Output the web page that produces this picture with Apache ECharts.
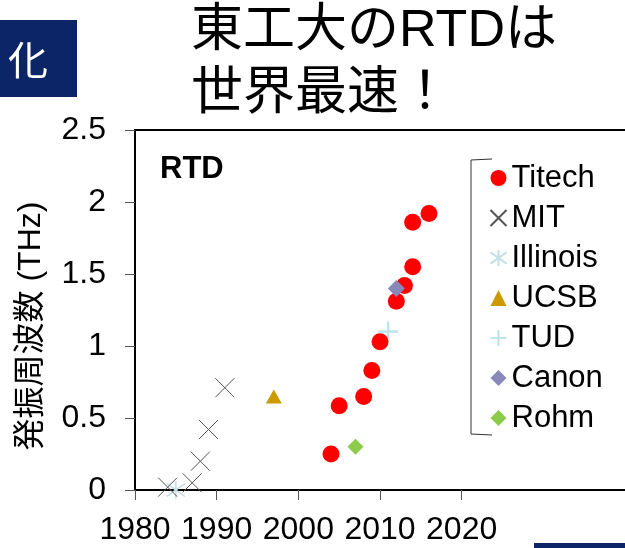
<!DOCTYPE html>
<html><head><meta charset="utf-8">
<script src="https://cdn.jsdelivr.net/npm/echarts@6/dist/echarts.min.js"></script>
<style>html,body{margin:0;padding:0;background:#fff}#c{width:625px;height:548px}</style>
</head><body><div id="c"></div>
<script>
// Data (year, frequency THz)
const titech = [[2004,0.25],[2005,0.585],[2008,0.65],[2009,0.83],[2010,1.03],[2012,1.31],[2013,1.42],[2014,1.55],[2014,1.86],[2016,1.92]];
const mit = [[1984,0.02],[1987,0.05],[1988,0.2],[1989,0.42],[1991,0.71]];
const illinois = [[1985,0.0]];
const ucsb = [[1997,0.65]];
const tud = [[2011,1.1]];
const canon = [[2012,1.4]];
const rohm = [[2007,0.3]];
const xTicks = [1980,1990,2000,2010,2020];
const yTicks = [0,0.5,1,1.5,2,2.5];
const seriesNames = ['Titech','MIT','Illinois','UCSB','TUD','Canon','Rohm'];

const FONT = "'Liberation Sans', Arial, 'Noto Sans CJK JP', sans-serif";
const crossPath = 'path://M0,0L10,10M10,0L0,10';
const starPath = 'path://M0,1.5L10,8.5M10,1.5L0,8.5M5,0L5,10';
const plusPath = 'path://M5,0L5,10M0,5L10,5';

const chart = echarts.init(document.getElementById('c'), null, {renderer:'canvas'});
chart.setOption({
  animation:false,
  backgroundColor:'#fff',
  grid:{left:135, top:130, right:0, bottom:58},
  xAxis:[{
    type:'value', min:1980, max:2040, interval:10,
    axisLine:{lineStyle:{color:'#000', width:2}},
    axisTick:{show:true, length:10, inside:false, lineStyle:{color:'#555', width:1}, customValues:xTicks},
    axisLabel:{fontSize:32, color:'#000', fontFamily:FONT, margin:24, customValues:xTicks, formatter:v=>String(v)},
    splitLine:{show:false}
  },{
    type:'value', position:'top', min:1980, max:2040,
    axisLine:{show:true, lineStyle:{color:'#000', width:2}},
    axisTick:{show:false}, axisLabel:{show:false}, splitLine:{show:false}
  }],
  yAxis:{
    type:'value', min:0, max:2.5, interval:0.5,
    axisLine:{show:true, lineStyle:{color:'#000', width:2}},
    axisTick:{show:true, length:10, lineStyle:{color:'#555', width:1}},
    axisLabel:{fontSize:32, color:'#000', fontFamily:FONT, margin:29, formatter:v=>String(v)},
    splitLine:{show:false}
  },
  legend:{
    orient:'vertical', left:488, top:158, itemGap:0, padding:0,
    itemWidth:16, itemHeight:16,
    textStyle:{fontSize:31, color:'#000', fontFamily:FONT, lineHeight:40},
    data:seriesNames
  },
  series:[
    {name:'TUD', type:'scatter', data:tud, symbol:plusPath, symbolSize:20, z:1,
      itemStyle:{color:'none', borderColor:'#bfe3ea', borderWidth:2.5, opacity:1}},
    {name:'Titech', type:'scatter', data:titech, symbol:'circle', symbolSize:17, z:2,
      itemStyle:{color:'#ff0000', opacity:1}},
    {name:'MIT', type:'scatter', data:mit, symbol:crossPath, symbolSize:19, z:3,
      itemStyle:{color:'none', borderColor:'#555', borderWidth:1, opacity:1}},
    {name:'Illinois', type:'scatter', data:illinois, symbol:starPath, symbolSize:18, z:2,
      itemStyle:{color:'none', borderColor:'#c5e0e4', borderWidth:1.5, opacity:1}},
    {name:'UCSB', type:'scatter', data:ucsb, symbol:'triangle', symbolSize:[16,14], z:3,
      itemStyle:{color:'#cc9900', opacity:1}},
    {name:'Canon', type:'scatter', data:canon, symbol:'diamond', symbolSize:17, z:4,
      itemStyle:{color:'#8888bb', opacity:1}},
    {name:'Rohm', type:'scatter', data:rohm, symbol:'diamond', symbolSize:16, z:3,
      itemStyle:{color:'#8ccc4a', opacity:1}}
  ],
  graphic:[
    {type:'rect', shape:{x:0,y:20,width:77,height:77}, style:{fill:'#0b2566'}},
    {type:'text', x:28, y:60, style:{text:'化', fill:'#fff', font:"40px 'Noto Sans CJK JP'", align:'center', verticalAlign:'middle'}},
    {type:'text', x:191, y:32, style:{text:'東工大のRTDは', fill:'#000', font:"52px "+FONT, align:'left', verticalAlign:'middle'}},
    {type:'text', x:191, y:95, style:{text:'世界最速！', fill:'#000', font:"52px "+FONT, align:'left', verticalAlign:'middle'}},
    {type:'text', x:31, y:326, rotation:Math.PI/2, style:{text:'発振周波数 (THz)', fill:'#000', font:"32px "+FONT, align:'center', verticalAlign:'middle'}},
    {type:'text', x:160, y:169, style:{text:'RTD', fill:'#000', font:"bold 31px "+FONT, align:'left', verticalAlign:'middle'}},
    {type:'polyline', shape:{points:[[492,159],[471,160],[471,434],[492,435]]}, style:{stroke:'#333', lineWidth:1, fill:null}},
    {type:'rect', shape:{x:534,y:543,width:91,height:5}, style:{fill:'#0b2566'}}
  ]
});
</script></body></html>
